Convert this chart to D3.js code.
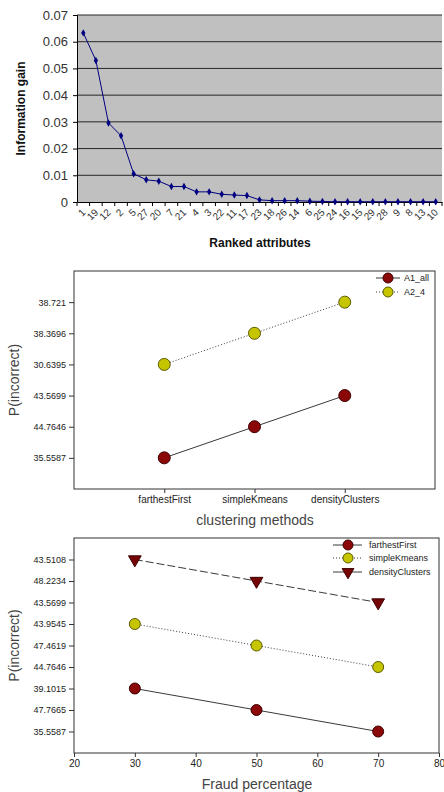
<!DOCTYPE html>
<html>
<head>
<meta charset="utf-8">
<script src="https://cdnjs.cloudflare.com/ajax/libs/d3/7.8.5/d3.min.js"></script>
<style>
  body { margin: 0; background: #fff; }
  svg { display: block; font-family: Arial, "Liberation Sans", sans-serif; }
</style>
</head>
<body>
<div id="graph"></div>
<script>
// ---- data ----
// panel 1: information gain per ranked attribute
const attrRanks = ["1","19","12","2","5","27","20","7","21","4","3","22","11","17","23",
  "18","26","14","6","25","24","16","15","29","28","9","8","13","10"];
const infoGain = [0.0633, 0.0530, 0.0296, 0.0248, 0.0106, 0.0083, 0.0078, 0.0058, 0.0058,
  0.0038, 0.0038, 0.0029, 0.0026, 0.0024, 0.0008, 0.0005, 0.0005, 0.0005, 0.0003, 0.0002,
  0.0001, 0.0001, 0.0001, 0.0001, 0.0001, 0.0001, 0.0001, 0.0001, 0.0001];
const gainTicks = [0, 0.01, 0.02, 0.03, 0.04, 0.05, 0.06, 0.07];

// panel 2: P(incorrect) by clustering method
const methods = ["farthestFirst", "simpleKmeans", "densityClusters"];
const methodTicks = [35.5587, 44.7646, 43.5699, 30.6395, 38.3696, 38.721]; // bottom -> top
const a1All = [35.5587, 44.7646, 43.5699];
const a24 = [30.6395, 38.3696, 38.721];

// panel 3: P(incorrect) by fraud percentage
const fraudPct = [30, 50, 70];
const fraudXTicks = [20, 30, 40, 50, 60, 70, 80];
const fraudTicks = [35.5587, 47.7665, 39.1015, 44.7646, 47.4619, 43.9545, 43.5699, 48.2234, 43.5108];
const farthestFirst = [39.1015, 47.7665, 35.5587];
const simpleKmeans = [43.9545, 47.4619, 44.7646];
const densityClusters = [43.5108, 48.2234, 43.5699];

const RED = "#8a0808", RED_DARK = "#3d0000", YEL = "#c6c600", YEL_DARK = "#5a5a00";

const svg = d3.select("#graph").append("svg")
  .attr("width", 444).attr("height", 792);

// ================= panel 1 =================
const p1 = {left: 77, right: 442, top: 15, bottom: 202};
const x1 = d3.scaleBand().domain(attrRanks).range([p1.left, p1.right]);
const y1 = d3.scaleLinear().domain([0, 0.07]).range([p1.bottom, p1.top]);

svg.append("rect")
  .attr("x", p1.left).attr("y", p1.top)
  .attr("width", p1.right - p1.left).attr("height", p1.bottom - p1.top)
  .attr("fill", "#c0c0c0");

svg.append("g").selectAll("line")
  .data(gainTicks.filter(d => d > 0))
  .join("line")
  .attr("x1", p1.left).attr("x2", p1.right)
  .attr("y1", d => y1(d)).attr("y2", d => y1(d))
  .attr("stroke", "#262626").attr("stroke-width", 1);

const yAxis1 = svg.append("g")
  .attr("transform", `translate(${p1.left},0)`)
  .call(d3.axisLeft(y1).tickValues(gainTicks).tickSize(4).tickPadding(5)
    .tickFormat(d => d === 0 ? "0" : d3.format(".2f")(d)));
yAxis1.selectAll("text").attr("font-size", 13).attr("fill", "#333");
yAxis1.selectAll("line, path").attr("stroke", "#000");

// x axis: labels under each category, ticks between categories
const xAxis1 = svg.append("g")
  .attr("transform", `translate(0,${p1.bottom})`)
  .call(d3.axisBottom(x1).tickSize(0).tickPadding(0));
xAxis1.select(".domain").attr("stroke", "#000");
xAxis1.selectAll("text")
  .attr("font-size", 10).attr("fill", "#333")
  .attr("text-anchor", "end")
  .attr("dy", null)
  .attr("transform", "translate(3,11) rotate(-45)");
svg.append("g").selectAll("line")
  .data(attrRanks.map(d => x1(d)).concat([p1.right]))
  .join("line")
  .attr("x1", d => d).attr("x2", d => d)
  .attr("y1", p1.bottom).attr("y2", p1.bottom + 4)
  .attr("stroke", "#000");

const line1 = d3.line()
  .x((d, i) => x1(attrRanks[i]) + x1.bandwidth() / 2)
  .y(d => y1(d));
svg.append("path").datum(infoGain)
  .attr("d", line1).attr("fill", "none")
  .attr("stroke", "#000080").attr("stroke-width", 1);
svg.append("g").selectAll("path")
  .data(infoGain)
  .join("path")
  .attr("d", d3.symbol(d3.symbolDiamond, 16))
  .attr("transform", (d, i) => `translate(${x1(attrRanks[i]) + x1.bandwidth() / 2},${y1(d)})`)
  .attr("fill", "#000080");

svg.append("text")
  .attr("transform", `translate(25,${(p1.top + p1.bottom) / 2}) rotate(-90)`)
  .attr("text-anchor", "middle")
  .attr("font-size", 12).attr("font-weight", "bold").attr("fill", "#111")
  .text("Information gain");
svg.append("text")
  .attr("x", 260).attr("y", 247)
  .attr("text-anchor", "middle")
  .attr("font-size", 12).attr("font-weight", "bold").attr("fill", "#111")
  .text("Ranked attributes");

// ================= helpers for panels 2, 3 =================
function drawCircles(g, xs, ys, fill, stroke, r) {
  g.append("g").selectAll("circle")
    .data(xs.map((x, i) => [x, ys[i]]))
    .join("circle")
    .attr("cx", d => d[0]).attr("cy", d => d[1]).attr("r", r)
    .attr("fill", fill).attr("stroke", stroke).attr("stroke-width", 1);
}
function drawTriangles(g, xs, ys, fill, stroke, size) {
  g.append("g").selectAll("path")
    .data(xs.map((x, i) => [x, ys[i]]))
    .join("path")
    .attr("d", d3.symbol(d3.symbolTriangle, size))
    .attr("transform", d => `translate(${d[0]},${d[1]}) rotate(180)`)
    .attr("fill", fill).attr("stroke", stroke).attr("stroke-width", 1);
}
function drawLine(g, xs, ys, dash) {
  g.append("path")
    .datum(xs.map((x, i) => [x, ys[i]]))
    .attr("d", d3.line())
    .attr("fill", "none").attr("stroke", "#3a3a3a").attr("stroke-width", 1)
    .attr("stroke-dasharray", dash);
}
function styleAxis(ax, size) {
  ax.select(".domain").remove();
  ax.selectAll("line").attr("stroke", "#333");
  ax.selectAll("text").attr("font-size", size).attr("fill", "#222");
}

// ================= panel 2 =================
const p2 = {left: 74, right: 435, top: 271, bottom: 489};
const x2 = d3.scalePoint().domain(methods).range([p2.left, p2.right]).padding(1);
const y2 = d3.scalePoint().domain(methodTicks).range([p2.bottom, p2.top]).padding(1);

svg.append("rect")
  .attr("x", p2.left).attr("y", p2.top)
  .attr("width", p2.right - p2.left).attr("height", p2.bottom - p2.top)
  .attr("fill", "none").attr("stroke", "#333");

styleAxis(svg.append("g").attr("transform", `translate(${p2.left},0)`)
  .call(d3.axisLeft(y2).tickSize(5).tickPadding(3).tickFormat(d => String(d))), 9);
styleAxis(svg.append("g").attr("transform", `translate(0,${p2.bottom})`)
  .call(d3.axisBottom(x2).tickSize(4).tickPadding(3)), 10);

const g2 = svg.append("g");
const x2s = methods.map(d => x2(d));
drawLine(g2, x2s, a24.map(d => y2(d)), "1,2");
drawLine(g2, x2s, a1All.map(d => y2(d)), null);
drawCircles(g2, x2s, a24.map(d => y2(d)), YEL, YEL_DARK, 6);
drawCircles(g2, x2s, a1All.map(d => y2(d)), RED, RED_DARK, 6);

// legend
const leg2 = [
  {name: "A1_all", fill: RED, stroke: RED_DARK, dash: null, y: 278},
  {name: "A2_4", fill: YEL, stroke: YEL_DARK, dash: "1,2", y: 292}
];
leg2.forEach(d => {
  drawLine(g2, [376, 400], [d.y, d.y], d.dash);
  drawCircles(g2, [388], [d.y], d.fill, d.stroke, 5);
  g2.append("text").attr("x", 404).attr("y", d.y + 3)
    .attr("font-size", 9).attr("fill", "#222").text(d.name);
});

svg.append("text")
  .attr("transform", `translate(19,${(p2.top + p2.bottom) / 2}) rotate(-90)`)
  .attr("text-anchor", "middle").attr("font-size", 14).attr("fill", "#444")
  .text("P(incorrect)");
svg.append("text")
  .attr("x", 255).attr("y", 525).attr("text-anchor", "middle")
  .attr("font-size", 14).attr("fill", "#444")
  .text("clustering methods");

// ================= panel 3 =================
const p3 = {left: 74, right: 439, top: 538, bottom: 753};
const x3 = d3.scaleLinear().domain([20, 80]).range([p3.left, p3.right]);
const y3 = d3.scalePoint().domain(fraudTicks).range([p3.bottom, p3.top]).padding(1);

svg.append("rect")
  .attr("x", p3.left).attr("y", p3.top)
  .attr("width", p3.right - p3.left).attr("height", p3.bottom - p3.top)
  .attr("fill", "none").attr("stroke", "#333");

styleAxis(svg.append("g").attr("transform", `translate(${p3.left},0)`)
  .call(d3.axisLeft(y3).tickSize(5).tickPadding(3).tickFormat(d => String(d))), 9);
styleAxis(svg.append("g").attr("transform", `translate(0,${p3.bottom})`)
  .call(d3.axisBottom(x3).tickValues(fraudXTicks).tickSize(4).tickPadding(3)), 10);

const g3 = svg.append("g");
const x3s = fraudPct.map(d => x3(d));
drawLine(g3, x3s, densityClusters.map(d => y3(d)), "8,3");
drawLine(g3, x3s, simpleKmeans.map(d => y3(d)), "1,2");
drawLine(g3, x3s, farthestFirst.map(d => y3(d)), null);
drawTriangles(g3, x3s, densityClusters.map(d => y3(d)), "#750505", RED_DARK, 70);
drawCircles(g3, x3s, simpleKmeans.map(d => y3(d)), YEL, YEL_DARK, 5.5);
drawCircles(g3, x3s, farthestFirst.map(d => y3(d)), RED, RED_DARK, 5.5);

const leg3 = [
  {name: "farthestFirst", shape: "c", fill: RED, stroke: RED_DARK, dash: null, y: 545},
  {name: "simpleKmeans", shape: "c", fill: YEL, stroke: YEL_DARK, dash: "1,2", y: 558},
  {name: "densityClusters", shape: "t", fill: "#750505", stroke: RED_DARK, dash: null, y: 572}
];
leg3.forEach(d => {
  drawLine(g3, [333, 362], [d.y, d.y], d.dash);
  if (d.shape === "c") drawCircles(g3, [348], [d.y], d.fill, d.stroke, 5);
  else drawTriangles(g3, [348], [d.y], d.fill, d.stroke, 60);
  g3.append("text").attr("x", 369).attr("y", d.y + 3)
    .attr("font-size", 9).attr("fill", "#222").text(d.name);
});

svg.append("text")
  .attr("transform", `translate(19,${(p3.top + p3.bottom) / 2}) rotate(-90)`)
  .attr("text-anchor", "middle").attr("font-size", 14).attr("fill", "#444")
  .text("P(incorrect)");
svg.append("text")
  .attr("x", 257).attr("y", 789).attr("text-anchor", "middle")
  .attr("font-size", 14).attr("fill", "#444")
  .text("Fraud percentage");
</script>
</body>
</html>
